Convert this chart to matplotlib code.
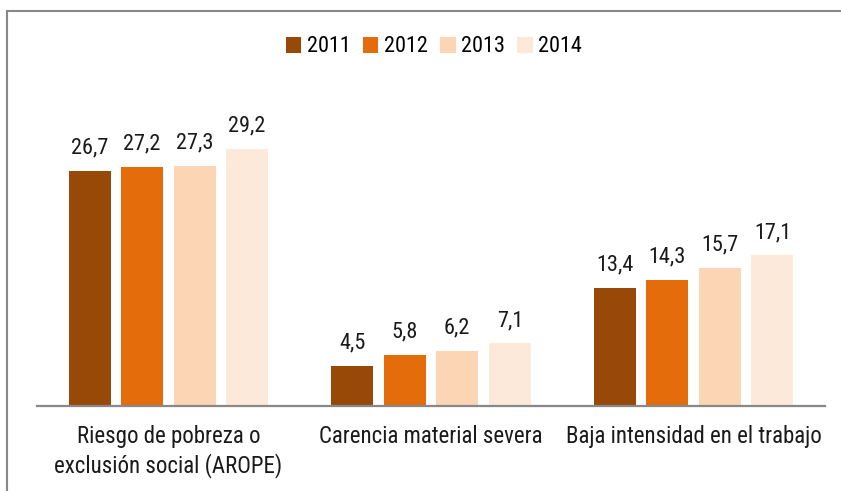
import matplotlib
matplotlib.use("Agg")
import matplotlib.pyplot as plt
from matplotlib.lines import Line2D
import numpy as np

categories = ["Riesgo de pobreza o\nexclusión social (AROPE)",
              "Carencia material severa",
              "Baja intensidad en el trabajo"]
years = ["2011", "2012", "2013", "2014"]
values = {
    "2011": [26.7, 4.5, 13.4],
    "2012": [27.2, 5.8, 14.3],
    "2013": [27.3, 6.2, 15.7],
    "2014": [29.2, 7.1, 17.1],
}
colors = ["#984807", "#E46C0A", "#FCD5B5", "#FDE9D9"]

plt.rcParams["font.family"] = ["Roboto Condensed", "Liberation Sans", "DejaVu Sans"]

W, H = 841, 491
fig = plt.figure(figsize=(W / 100, H / 100), dpi=100)
ax = fig.add_axes([37 / W, 1 - 406 / H, (825 - 37) / W, (406 - 60) / H])

x = np.arange(len(categories))
width = 0.16
offsets = [-0.3, -0.1, 0.1, 0.3]
for yr, off, col in zip(years, offsets, colors):
    bars = ax.bar(x + off, values[yr], width, color=col, label=yr)
    ax.bar_label(bars, labels=[f"{v:.1f}".replace(".", ",") for v in values[yr]],
                 padding=9, fontsize=16, color="#1a1a1a")

ax.set_xlim(-0.5, 2.5)
ax.set_ylim(0, 39.3)
ax.set_yticks([])
for s in ["top", "right", "left"]:
    ax.spines[s].set_visible(False)
ax.spines["bottom"].set_color("#888888")
ax.spines["bottom"].set_linewidth(1.6)
ax.set_xticks(x)
ax.set_xticklabels(categories, fontsize=16.5, color="#1a1a1a", linespacing=1.25)
ax.tick_params(axis="x", length=0, pad=14)

leg = fig.legend(loc="center", bbox_to_anchor=(434 / W, 1 - 47 / H), ncol=4,
                 frameon=False, fontsize=16, handlelength=0.7, handleheight=0.7,
                 handletextpad=0.25, columnspacing=0.55)

# outer border (top and left only)
fig.add_artist(Line2D([6.5 / W, 1], [1 - 10.5 / H, 1 - 10.5 / H], color="#888888", lw=1.5,
                      transform=fig.transFigure))
fig.add_artist(Line2D([6.5 / W, 6.5 / W], [0, 1 - 10.5 / H], color="#888888", lw=1.5,
                      transform=fig.transFigure))

fig.savefig("out.png", dpi=100)
